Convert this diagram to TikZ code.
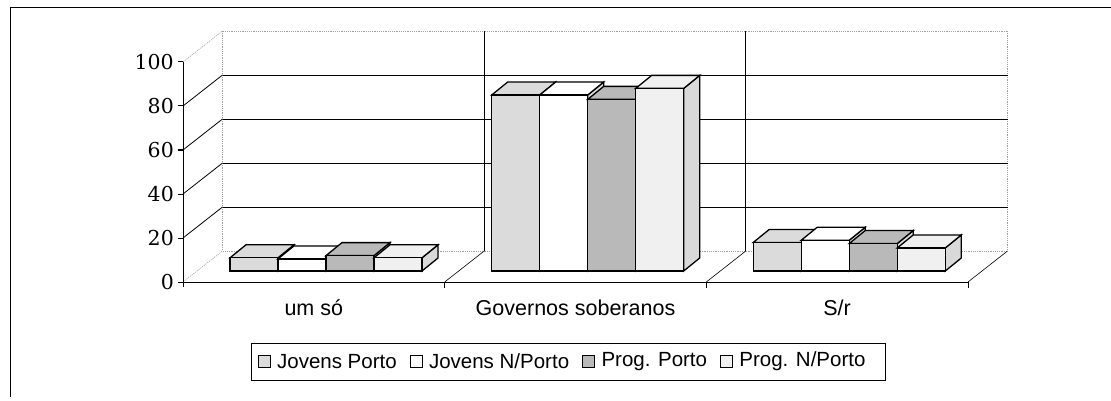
\documentclass[tikz,border=0pt]{standalone}
\usepackage{fontspec}
\setmainfont{Liberation Sans}
\newfontfamily\tickfont{DejaVu Serif}
\usetikzlibrary{positioning}
\newcommand{\drawbox}[4]{%
  \pgfmathsetmacro{\bx}{#1}%
  \pgfmathsetmacro{\bt}{271-2.2*#2}%
  \draw[barline, fill=#4] (\bx+48,271) -- (\bx+64,258) -- (\bx+64,\bt-13) -- (\bx+48,\bt) -- cycle;
  \draw[barline, fill=#3] (\bx,\bt) -- (\bx+16,\bt-13) -- (\bx+64,\bt-13) -- (\bx+48,\bt) -- cycle;
  \draw[barline, fill=#3] (\bx,271) rectangle (\bx+48,\bt);
}
\begin{document}
\begin{tikzpicture}[x=1pt,y=-1pt,
  frame/.style={line width=1pt, black},
  gridl/.style={line width=0.8pt, black},
  faint/.style={line width=0.6pt, gray!75, dash pattern=on 1.2pt off 1pt},
  axisl/.style={line width=1pt, black},
  barline/.style={line width=1.3pt, black, line join=miter},
  ticklab/.style={font=\tickfont\fontsize{20.5}{20.5}\selectfont, anchor=east, inner sep=0pt},
  catlab/.style={font=\fontsize{21.5}{21.5}\selectfont, inner sep=0pt},
  legtext/.style={font=\fontsize{20.5}{20.5}\selectfont, inner sep=0pt},
  legsq/.style={draw=black, line width=0.9pt, minimum size=12pt, inner sep=0pt}]
\useasboundingbox (0,0) rectangle (1111,401);
% outer frame (top and left edges)
\draw[frame] (1111,8) -- (10,8) -- (10,397);
% back wall
\draw[faint] (222.5,31) -- (1007.5,31);
\draw[faint] (222.5,31) -- (222.5,251);
\draw[faint] (1007.5,31) -- (1007.5,251);
\draw[faint] (222.5,251) -- (1007.5,251);
\foreach \v in {20,40,60,80}{
  \draw[gridl] (222.5,251-2.2*\v) -- (1007.5,251-2.2*\v);
  \draw[gridl] (183,282-2.2*\v) -- (222.5,251-2.2*\v);
}
\draw[faint] (183,62) -- (222.5,31);
\draw[faint] (183,282) -- (222.5,251);
% back category verticals
\draw[line width=0.7pt] (484,31) -- (484,251);
\draw[line width=0.7pt] (745.8,31) -- (745.8,251);
% floor diagonals
\foreach \fx in {444.7,706.3,968}{
  \draw[line width=0.6pt] (\fx,282) -- (\fx+39.5,251);
}
% axes
\draw[axisl] (183,62) -- (183,287);
\draw[axisl] (183,282) -- (968,282);
\foreach \v in {0,20,40,60,80,100}{
  \draw[axisl] (178,282-2.2*\v) -- (183,282-2.2*\v);
}
\foreach \fx in {444.7,706.3,968}{
  \draw[axisl] (\fx,282) -- (\fx,288);
}
% tick labels
\node[ticklab] (l100) at (174,62) {100};
\node[ticklab] (l80) at (174,106) {80};
\node[ticklab] (l60) at (174,150) {60};
\node[ticklab] (l40) at (174,194) {40};
\node[ticklab] (l20) at (174,238) {20};
\node[ticklab] (l0) at (174,282) {0};
% bars: um so
\drawbox{230}{6}{gray!28}{gray!30}
\drawbox{278}{5.5}{white}{gray!30}
\drawbox{326}{7}{gray!55}{gray!30}
\drawbox{374}{6}{gray!12}{gray!30}
% bars: Governos soberanos
\drawbox{491.7}{80}{gray!28}{gray!30}
\drawbox{539.7}{80}{white}{gray!30}
\drawbox{587.7}{78}{gray!55}{gray!30}
\drawbox{635.7}{83}{gray!12}{gray!30}
% bars: S/r
\drawbox{753.3}{13}{gray!28}{gray!30}
\drawbox{801.3}{14}{white}{gray!30}
\drawbox{849.3}{12.5}{gray!55}{gray!30}
\drawbox{897.3}{10.5}{gray!12}{gray!30}
% category labels
\node[catlab] (c1) at (313.8,308) {um só};
\node[catlab] (c2) at (575.5,308) {Governos soberanos};
\node[catlab] (c3) at (837,308) {S/r};
% legend
\draw[line width=0.9pt] (251,343) rectangle (885,380);
\node[legsq, fill=gray!28, anchor=west] (s1) at (258,361.5) {};
\node[legtext, right=6pt of s1] (t1) {Jovens Porto};
\node[legsq, fill=white, right=13pt of t1] (s2) {};
\node[legtext, right=6pt of s2] (t2) {Jovens N/Porto};
\node[legsq, fill=gray!55, right=13pt of t2] (s3) {};
\node[legtext, right=6pt of s3] (t3) {Prog. Porto};
\node[legsq, fill=gray!12, right=13pt of t3] (s4) {};
\node[legtext, right=6pt of s4] (t4) {Prog. N/Porto};
\end{tikzpicture}
\end{document}
